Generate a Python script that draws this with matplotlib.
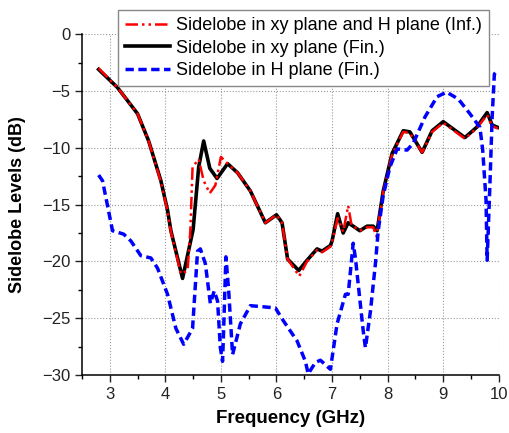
import matplotlib
matplotlib.use("Agg")
import matplotlib.pyplot as plt
from matplotlib.ticker import MultipleLocator

plt.rcParams["font.family"] = ["Liberation Sans", "DejaVu Sans"]

# Sidelobe xy + H plane (infinite ground)
freq_inf = [2.8, 3.14, 3.5, 3.7, 3.92, 4.04, 4.1, 4.28, 4.4, 4.45, 4.49, 4.6, 4.69, 4.8,
            4.9, 5.0, 5.12, 5.3, 5.53, 5.8, 6.0, 6.1, 6.2, 6.41, 6.55, 6.73, 6.82, 6.97,
            7.0, 7.1, 7.2, 7.29, 7.35, 7.5, 7.63, 7.74, 7.8, 7.92, 8.08, 8.28, 8.4, 8.62,
            8.8, 9.0, 9.39, 9.6, 9.79, 9.88, 9.98]
sll_inf = [-3.0, -4.7, -7.0, -9.4, -13.0, -15.6, -17.4, -21.1, -20.8, -17.3, -11.7, -11.0,
           -12.9, -14.0, -13.3, -10.8, -11.4, -12.2, -13.8, -16.6, -15.9, -16.6, -19.8,
           -21.3, -20.0, -19.0, -19.2, -18.7, -18.3, -16.2, -17.4, -15.1, -16.8, -17.3,
           -17.0, -17.0, -17.8, -13.9, -10.6, -8.6, -8.7, -10.4, -8.6, -7.8, -9.2, -8.3,
           -7.1, -8.1, -8.3]

# Sidelobe xy plane (finite ground)
freq_xy = [2.8, 3.14, 3.5, 3.7, 3.92, 4.04, 4.1, 4.31, 4.5, 4.6, 4.69, 4.8, 4.93, 5.12,
           5.3, 5.53, 5.8, 6.0, 6.1, 6.2, 6.4, 6.55, 6.73, 6.82, 6.97, 7.0, 7.1, 7.2,
           7.29, 7.5, 7.63, 7.74, 7.81, 7.92, 8.08, 8.28, 8.4, 8.62, 8.8, 9.0, 9.39,
           9.6, 9.79, 9.88, 9.98]
sll_xy = [-3.1, -4.7, -7.0, -9.4, -12.9, -15.5, -17.3, -21.5, -17.2, -11.7, -9.4, -11.8,
          -12.7, -11.4, -12.2, -13.8, -16.6, -15.9, -16.6, -19.8, -20.8, -19.9, -18.9,
          -19.1, -18.6, -18.2, -15.8, -17.5, -16.6, -17.3, -16.9, -16.9, -17.3, -13.8,
          -10.5, -8.5, -8.6, -10.4, -8.5, -7.7, -9.1, -8.2, -6.9, -8.0, -8.2]

# Sidelobe H plane (finite ground)
freq_h = [2.8, 2.87, 2.96, 3.05, 3.25, 3.38, 3.56, 3.74, 3.86, 4.04, 4.19, 4.33, 4.49,
          4.58, 4.63, 4.72, 4.81, 4.88, 4.94, 4.99, 5.03, 5.05, 5.09, 5.14, 5.21, 5.35,
          5.53, 5.77, 5.98, 6.12, 6.37, 6.52, 6.57, 6.7, 6.79, 6.97, 7.09, 7.24, 7.29,
          7.38, 7.42, 7.47, 7.56, 7.6, 7.69, 7.78, 7.83, 7.92, 8.04, 8.17, 8.35, 8.46,
          8.67, 8.89, 9.06, 9.27, 9.48, 9.66, 9.71, 9.77, 9.79, 9.84, 9.88, 9.92, 9.98]
sll_h = [-12.4, -12.9, -15.1, -17.3, -17.6, -18.2, -19.5, -19.7, -20.6, -22.9, -25.9,
         -27.3, -25.9, -19.1, -18.9, -20.2, -23.7, -22.6, -23.5, -27.6, -28.8, -25.9,
         -19.6, -22.6, -28.2, -25.5, -23.9, -24.0, -24.1, -25.2, -27.0, -28.8, -29.9,
         -28.9, -28.7, -29.5, -25.5, -22.9, -22.9, -18.4, -19.7, -22.0, -26.1, -27.6,
         -24.4, -20.2, -17.3, -14.2, -11.7, -10.1, -10.2, -9.6, -7.3, -5.5, -5.1, -5.7,
         -7.0, -8.2, -10.2, -14.6, -19.9, -13.2, -7.3, -3.5, -3.2]

fig = plt.figure(figsize=(5.09, 4.33), dpi=100)
ax = fig.add_axes([0.161, 0.134, 0.819, 0.787])

ax.plot(freq_xy, sll_xy, color="black", lw=2.6, label="Sidelobe in xy plane (Fin.)", zorder=3)
ax.plot(freq_inf, sll_inf, color="red", lw=1.8, dashes=(5, 1.6, 1, 1.6, 1, 1.6),
        label="Sidelobe in xy plane and H plane (Inf.)", zorder=4)
ax.plot(freq_h, sll_h, color="blue", lw=2.5, dashes=(2.4, 1.3),
        label="Sidelobe in H plane (Fin.)", zorder=5)

ax.set_xlim(2.5, 10)
ax.set_ylim(-30, 0)
ax.xaxis.set_major_locator(MultipleLocator(1))
ax.xaxis.set_minor_locator(MultipleLocator(0.5))
ax.yaxis.set_major_locator(MultipleLocator(5))
ax.yaxis.set_minor_locator(MultipleLocator(2.5))
ax.grid(True, which="major", color="#999999", linestyle=":", linewidth=0.8)
ax.tick_params(which="major", direction="out", length=5, width=1, labelsize=12, colors="#222222")
ax.tick_params(which="minor", direction="out", length=3, width=1)
for side in ("top", "right"):
    ax.spines[side].set_visible(False)
for side in ("left", "bottom"):
    ax.spines[side].set_linewidth(1.1)

ax.set_xlabel("Frequency (GHz)", fontsize=13.5, fontweight="bold", labelpad=6)
ax.set_ylabel("Sidelobe Levels (dB)", fontsize=13, fontweight="bold", labelpad=11)

handles, labels = ax.get_legend_handles_labels()
order = [1, 0, 2]
leg = fig.legend([handles[i] for i in order], [labels[i] for i in order],
                 loc="upper left", bbox_to_anchor=(0.232, 0.977), bbox_transform=fig.transFigure,
                 borderaxespad=0, fontsize=13, handlelength=2.5, handletextpad=0.3,
                 labelspacing=0.3, borderpad=0.4, fancybox=False, framealpha=1,
                 edgecolor="#888888")
leg.get_frame().set_linewidth(1.0)
leg.set_zorder(10)

fig.savefig("out.png", dpi=100)
